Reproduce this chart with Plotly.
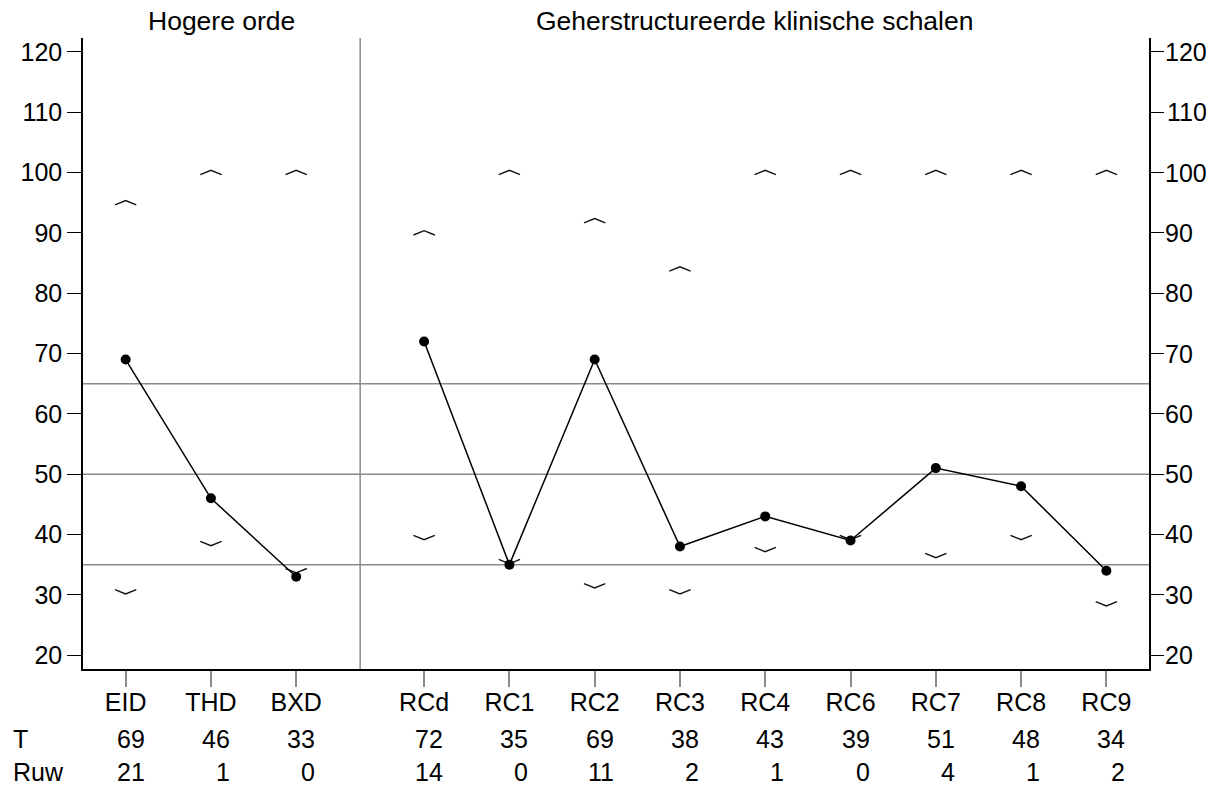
import plotly.graph_objects as go

# ---- data ----
categories = ["EID", "THD", "BXD", "RCd", "RC1", "RC2", "RC3", "RC4", "RC6", "RC7", "RC8", "RC9"]
groups = [0, 0, 0, 1, 1, 1, 1, 1, 1, 1, 1, 1]
t_scores = [69, 46, 33, 72, 35, 69, 38, 43, 39, 51, 48, 34]
raw_scores = [21, 1, 0, 14, 0, 11, 2, 1, 0, 4, 1, 2]
upper_ref = [95, 100, 100, 90, 100, 92, 84, 100, 100, 100, 100, 100]
lower_ref = [30.5, 38.5, 34, 39.5, 35.5, 31.5, 30.5, 37.5, 39.5, 36.5, 39.5, 28.5]
ref_lines = [35, 50, 65]
group_titles = ["Hogere orde", "Geherstructureerde klinische schalen"]
y_ticks = [20, 30, 40, 50, 60, 70, 80, 90, 100, 110, 120]

# positions: a gap of 1.5 between groups
xpos = []
p = 0.0
for i, g in enumerate(groups):
    if i > 0:
        p += 1.5 if g != groups[i - 1] else 1.0
    xpos.append(p)
sep_x = (xpos[2] + xpos[3]) / 2
x_range = [-0.5, xpos[-1] + 0.5]
y_range = [17.7, 122.3]

FONT = "Liberation Sans, Arial, sans-serif"
FS = 25
FT = 26.5
GRAY = "#8a8a8a"

fig = go.Figure()

# reference horizontal lines
for v in ref_lines:
    fig.add_shape(type="line", xref="paper", yref="y", x0=0, x1=1, y0=v, y1=v,
                  line=dict(color=GRAY, width=1.5), layer="below")
# group separator
fig.add_shape(type="line", xref="x", yref="paper", x0=sep_x, x1=sep_x, y0=0, y1=1,
              line=dict(color=GRAY, width=1.5), layer="below")

# chevrons
w, h = 0.125, 0.36
cx, cy = [], []
for x, v in zip(xpos, upper_ref):
    cx += [x - w, x, x + w, None]
    cy += [v - h, v + h, v - h, None]
for x, v in zip(xpos, lower_ref):
    cx += [x - w, x, x + w, None]
    cy += [v + h, v - h, v + h, None]
fig.add_trace(go.Scatter(x=cx, y=cy, mode="lines", line=dict(color="#111", width=1.4),
                         hoverinfo="skip", showlegend=False))

# profile line
lx, ly = [], []
for i, (x, v) in enumerate(zip(xpos, t_scores)):
    if i > 0 and groups[i] != groups[i - 1]:
        lx.append(None); ly.append(None)
    lx.append(x); ly.append(v)
fig.add_trace(go.Scatter(x=lx, y=ly, mode="lines+markers",
                         line=dict(color="black", width=1.5),
                         marker=dict(color="black", size=10),
                         showlegend=False))
# invisible trace for right axis
fig.add_trace(go.Scatter(x=[xpos[0]], y=[t_scores[0]], yaxis="y2", mode="markers",
                         marker=dict(opacity=0), showlegend=False, hoverinfo="skip"))

ann = []
# group titles
ann.append(dict(text=group_titles[0], xref="x", yref="paper", x=(x_range[0] + sep_x) / 2, y=1,
                yanchor="middle", yshift=17, showarrow=False, font=dict(size=FT, family=FONT, color="black")))
ann.append(dict(text=group_titles[1], xref="x", yref="paper", x=(sep_x + x_range[1]) / 2, y=1,
                yanchor="middle", yshift=17, showarrow=False, font=dict(size=FT, family=FONT, color="black")))
# right-axis tick labels (right-aligned so they stay inside the page)
for v in y_ticks:
    ann.append(dict(text=str(v), xref="paper", yref="y2", x=1, y=v, xanchor="right", yanchor="middle",
                    xshift=60 if v >= 100 else 46, showarrow=False,
                    font=dict(size=FS, family=FONT, color="black")))
# rows
for x, t, r in zip(xpos, t_scores, raw_scores):
    ann.append(dict(text=str(t), xref="x", yref="paper", x=x, y=0, xanchor="right", yanchor="middle",
                    xshift=21, yshift=-70, showarrow=False, font=dict(size=FS, family=FONT, color="black")))
    ann.append(dict(text=str(r), xref="x", yref="paper", x=x, y=0, xanchor="right", yanchor="middle",
                    xshift=21, yshift=-103, showarrow=False, font=dict(size=FS, family=FONT, color="black")))
for lab, ys in (("T", -70), ("Ruw", -103)):
    ann.append(dict(text=lab, xref="paper", yref="paper", x=0, y=0, xanchor="left", yanchor="middle",
                    xshift=-72, yshift=ys, showarrow=False, font=dict(size=FS, family=FONT, color="black")))

fig.update_layout(
    width=1206, height=777,
    margin=dict(l=75, r=65, t=30, b=116, autoexpand=False),
    paper_bgcolor="white", plot_bgcolor="white",
    font=dict(family=FONT, size=FS, color="black"),
    showlegend=False,
    annotations=ann,
    xaxis=dict(range=x_range, tickvals=xpos, ticktext=categories, showgrid=False, zeroline=False,
               showline=True, linecolor="black", linewidth=1.5, ticks="outside", ticklen=16,
               tickcolor=GRAY, tickwidth=1.5, ticklabelstandoff=-6, automargin=False,
               tickfont=dict(size=FS, family=FONT, color="black")),
    yaxis=dict(range=y_range, tickvals=y_ticks, showgrid=False, zeroline=False, automargin=False,
               showline=True, linecolor="black", linewidth=1.5, ticks="outside", ticklen=14,
               tickcolor="black", tickwidth=1.2, tickfont=dict(size=FS, family=FONT, color="black")),
    yaxis2=dict(range=y_range, tickvals=y_ticks, overlaying="y", side="right", showgrid=False,
                zeroline=False, showline=True, linecolor="black", linewidth=1.5, ticks="outside",
                ticklen=13, tickcolor="black", tickwidth=1.2, automargin=False,
                showticklabels=False),
)

fig.write_html("out.html")
